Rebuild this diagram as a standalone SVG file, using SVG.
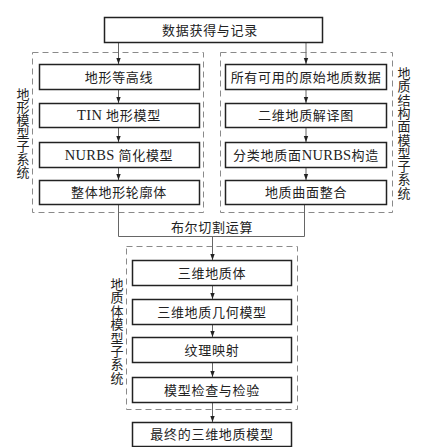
<svg xmlns="http://www.w3.org/2000/svg" width="423" height="447" viewBox="0 0 423 447">
<style>
.box{fill:#fff;stroke:#222;stroke-width:1.5}
.dash{fill:none;stroke:#8a8a8a;stroke-width:1;stroke-dasharray:6 4}
.ln{fill:none;stroke:#666;stroke-width:1}
.t{font-family:"Liberation Serif","Noto Sans CJK SC",serif;font-size:13px;fill:#222;text-anchor:middle;letter-spacing:0.7px}
.lat{font-size:14.5px;letter-spacing:0.3px}
.v{font-family:"Liberation Serif","Noto Sans CJK SC",serif;font-size:13px;fill:#222;text-anchor:middle}
</style>
<defs>
<marker id="ah" viewBox="0 0 6 6" refX="6" refY="3" markerWidth="6" markerHeight="6" markerUnits="userSpaceOnUse" orient="auto">
<path d="M0,0.8 L6,3 L0,5.2 Z" fill="#222"/>
</marker>
</defs>
<rect width="423" height="447" fill="#fff"/>
<g id="subsystems">
<rect class="dash" x="32.5" y="52.5" width="171" height="160"/>
<rect class="dash" x="220.5" y="52.5" width="172" height="160"/>
<rect class="dash" x="126.5" y="246.5" width="171" height="163"/>
<text class="v"><tspan x="23" y="99">地</tspan><tspan x="23" dy="13">形</tspan><tspan x="23" dy="13">模</tspan><tspan x="23" dy="13">型</tspan><tspan x="23" dy="13">子</tspan><tspan x="23" dy="13">系</tspan><tspan x="23" dy="13">统</tspan></text>
<text class="v"><tspan x="404" y="78">地</tspan><tspan x="404" dy="13.3">质</tspan><tspan x="404" dy="13.3">结</tspan><tspan x="404" dy="13.3">构</tspan><tspan x="404" dy="13.3">面</tspan><tspan x="404" dy="13.3">模</tspan><tspan x="404" dy="13.3">型</tspan><tspan x="404" dy="13.3">子</tspan><tspan x="404" dy="13.3">系</tspan><tspan x="404" dy="13.3">统</tspan></text>
<text class="v"><tspan x="117" y="289">地</tspan><tspan x="117" dy="13.4">质</tspan><tspan x="117" dy="13.4">体</tspan><tspan x="117" dy="13.4">模</tspan><tspan x="117" dy="13.4">型</tspan><tspan x="117" dy="13.4">子</tspan><tspan x="117" dy="13.4">系</tspan><tspan x="117" dy="13.4">统</tspan></text>
</g>
<g id="connectors">
<path class="ln" d="M118.5,42 V64" marker-end="url(#ah)"/>
<path class="ln" d="M118.5,89 V103" marker-end="url(#ah)"/>
<path class="ln" d="M118.5,127 V142" marker-end="url(#ah)"/>
<path class="ln" d="M118.5,167 V180" marker-end="url(#ah)"/>
<path class="ln" d="M306,42 V64" marker-end="url(#ah)"/>
<path class="ln" d="M306,89 V103" marker-end="url(#ah)"/>
<path class="ln" d="M306,127 V142" marker-end="url(#ah)"/>
<path class="ln" d="M306,167 V180" marker-end="url(#ah)"/>
<path class="ln" d="M118.5,204 V236.5 H304.5 V204"/>
<text class="t" x="212" y="232">布尔切割运算</text>
<path class="ln" d="M212.5,236.5 V260" marker-end="url(#ah)"/>
<path class="ln" d="M212.5,285 V299" marker-end="url(#ah)"/>
<path class="ln" d="M212.5,324 V337" marker-end="url(#ah)"/>
<path class="ln" d="M212.5,362 V377" marker-end="url(#ah)"/>
<path class="ln" d="M212.5,402 V422" marker-end="url(#ah)"/>
</g>
<g id="n0"><rect class="box" x="104.5" y="17.5" width="218" height="25"/><text class="t" x="210" y="35">数据获得与记录</text></g>
<g id="n1"><rect class="box" x="39.5" y="64.5" width="160" height="25"/><text class="t" x="119" y="81.5">地形等高线</text></g>
<g id="n2"><rect class="box" x="39.5" y="103.5" width="160" height="24"/><text class="t" x="119" y="120"><tspan class="lat">TIN </tspan>地形模型</text></g>
<g id="n3"><rect class="box" x="39.5" y="142.5" width="160" height="25"/><text class="t" x="119" y="159.5"><tspan class="lat">NURBS </tspan>简化模型</text></g>
<g id="n4"><rect class="box" x="39.5" y="180.5" width="160" height="24"/><text class="t" x="119" y="197">整体地形轮廓体</text></g>
<g id="n5"><rect class="box" x="225.5" y="64.5" width="161" height="25"/><text class="t" x="306" y="81.5">所有可用的原始地质数据</text></g>
<g id="n6"><rect class="box" x="225.5" y="103.5" width="161" height="24"/><text class="t" x="306" y="120">二维地质解译图</text></g>
<g id="n7"><rect class="box" x="225.5" y="142.5" width="161" height="25"/><text class="t" x="306" y="159.5">分类地质面<tspan class="lat">NURBS</tspan>构造</text></g>
<g id="n8"><rect class="box" x="225.5" y="180.5" width="161" height="24"/><text class="t" x="306" y="197">地质曲面整合</text></g>
<g id="n9"><rect class="box" x="132.5" y="260.5" width="159" height="25"/><text class="t" x="212" y="277.5">三维地质体</text></g>
<g id="n10"><rect class="box" x="132.5" y="299.5" width="159" height="25"/><text class="t" x="212" y="316.5">三维地质几何模型</text></g>
<g id="n11"><rect class="box" x="132.5" y="337.5" width="159" height="25"/><text class="t" x="212" y="354.5">纹理映射</text></g>
<g id="n12"><rect class="box" x="132.5" y="377.5" width="159" height="25"/><text class="t" x="212" y="394.5">模型检查与检验</text></g>
<g id="n13"><rect class="box" x="132.5" y="422.5" width="159" height="24"/><text class="t" x="212" y="439">最终的三维地质模型</text></g>
</svg>
